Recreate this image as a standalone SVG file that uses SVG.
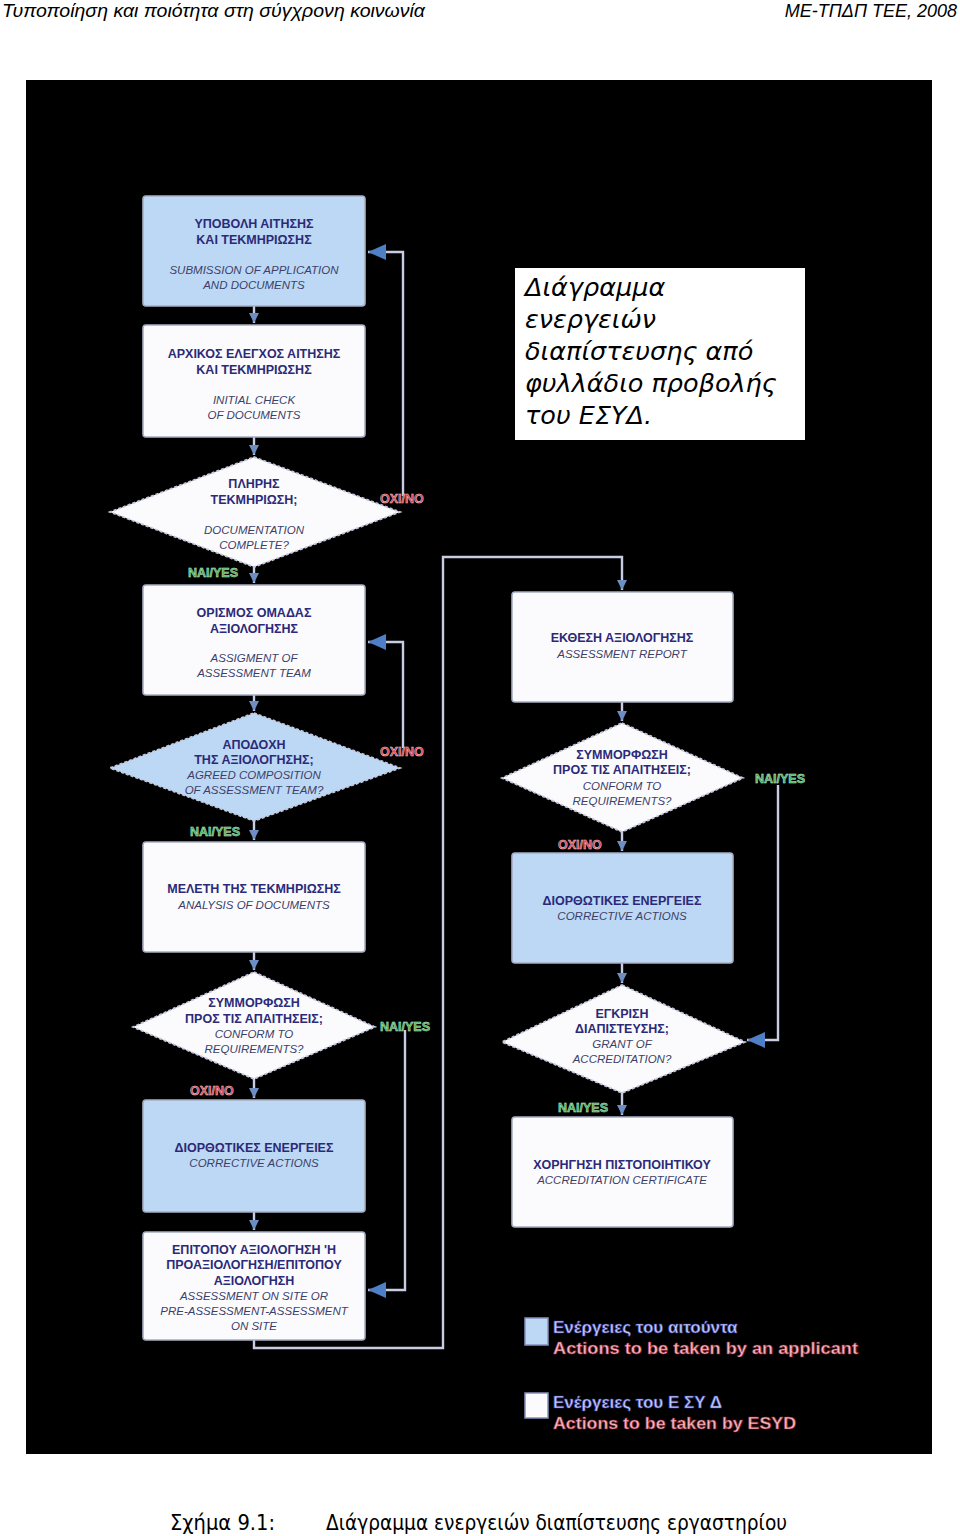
<svg xmlns="http://www.w3.org/2000/svg" width="960" height="1536" viewBox="0 0 960 1536">
<style>
.hdr{font-family:"Liberation Sans",Arial,sans-serif;font-style:italic;font-size:18px;fill:#000}
.cap{font-family:"DejaVu Sans","Liberation Sans",sans-serif;font-size:21px;fill:#000}
.ovl{font-family:"DejaVu Sans","Liberation Sans",sans-serif;font-style:italic;font-size:25.5px;fill:#000}
.box{stroke:#a8aec4;stroke-width:1.6}
.blue{fill:#bcd8f4}
.white{fill:#fbfbfd}
.dia{stroke:#c4c8dc;stroke-width:1.8;stroke-dasharray:3 2}
.gr{font-family:"Liberation Sans",Arial,sans-serif;font-weight:bold;font-size:12.5px;fill:#2b2a78;text-anchor:middle}
.en{font-family:"Liberation Sans",Arial,sans-serif;font-style:italic;font-size:11.5px;fill:#3c3f6a;text-anchor:middle}
.no{font-family:"Liberation Sans",Arial,sans-serif;font-weight:bold;font-size:12.5px;fill:#d83a48;stroke:#f6c8cc;stroke-width:0.5}
.yes{font-family:"Liberation Sans",Arial,sans-serif;font-weight:bold;font-size:12.5px;fill:#3ea858;stroke:#c8f0d0;stroke-width:0.5}
.con{fill:none;stroke:#c8cde4;stroke-width:2.4}
.lg1{font-family:"Liberation Sans",Arial,sans-serif;font-weight:bold;font-size:17px;fill:#c4cdf8;stroke:#3a3ca8;stroke-width:0.6}
.lg2{font-family:"Liberation Sans",Arial,sans-serif;font-weight:bold;font-size:17px;fill:#f2b8c2;stroke:#a02838;stroke-width:0.6}
</style>
<defs>
<marker id="sm" markerUnits="userSpaceOnUse" markerWidth="10" markerHeight="10" refX="10" refY="5" orient="auto"><path d="M0,0 L10,5 L0,10 z" fill="#6d8ec4"/></marker>
<marker id="bg" markerUnits="userSpaceOnUse" markerWidth="18" markerHeight="16" refX="18" refY="8" orient="auto"><path d="M0,0 L18,8 L0,16 z" fill="#4f7fc6"/></marker>
</defs>
<rect x="0" y="0" width="960" height="1536" fill="#fff"/>
<text class="hdr" x="2" y="17" textLength="423" lengthAdjust="spacingAndGlyphs">Τυποποίηση και ποιότητα στη σύγχρονη κοινωνία</text>
<text class="hdr" x="957" y="17" text-anchor="end">ΜΕ-ΤΠΔΠ ΤΕΕ, 2008</text>
<rect x="26" y="80" width="906" height="1374" fill="#000"/>
<g id="overlay">
<rect x="515" y="268" width="290" height="172" fill="#fff"/>
<text class="ovl" x="525" y="296">Διάγραμμα</text>
<text class="ovl" x="525" y="328">ενεργειών</text>
<text class="ovl" x="525" y="360">διαπίστευσης από</text>
<text class="ovl" x="525" y="392">φυλλάδιο προβολής</text>
<text class="ovl" x="525" y="424">του ΕΣΥΔ.</text>
</g>
<g id="connectors">
<path class="con" d="M254,306 V323" marker-end="url(#sm)"/>
<path class="con" d="M254,437 V455" marker-end="url(#sm)"/>
<path class="con" d="M403,496 V252 H368" marker-end="url(#bg)"/>
<path class="con" d="M254,567 V583" marker-end="url(#sm)"/>
<path class="con" d="M254,695 V711" marker-end="url(#sm)"/>
<path class="con" d="M403,748 V642 H368" marker-end="url(#bg)"/>
<path class="con" d="M254,820 V840" marker-end="url(#sm)"/>
<path class="con" d="M254,952 V970" marker-end="url(#sm)"/>
<path class="con" d="M405,1030 V1290 H368" marker-end="url(#bg)"/>
<path class="con" d="M254,1078 V1098" marker-end="url(#sm)"/>
<path class="con" d="M254,1212 V1230" marker-end="url(#sm)"/>
<path class="con" d="M254,1340 V1348 H443 V557 H622 V590" marker-end="url(#sm)"/>
<path class="con" d="M622,702 V721" marker-end="url(#sm)"/>
<path class="con" d="M778,785 V1040 H747" marker-end="url(#bg)"/>
<path class="con" d="M622,832 V851" marker-end="url(#sm)"/>
<path class="con" d="M622,963 V983" marker-end="url(#sm)"/>
<path class="con" d="M622,1093 V1115" marker-end="url(#sm)"/>
</g>
<g id="n1">
<rect class="box blue" x="143" y="196" width="222" height="110" rx="3"/>
<text class="gr" x="254" y="228">ΥΠΟΒΟΛΗ ΑΙΤΗΣΗΣ</text>
<text class="gr" x="254" y="244">ΚΑΙ ΤΕΚΜΗΡΙΩΣΗΣ</text>
<text class="en" x="254" y="274">SUBMISSION OF APPLICATION</text>
<text class="en" x="254" y="289">AND DOCUMENTS</text>
</g>
<g id="n2">
<rect class="box white" x="143" y="325" width="222" height="112" rx="3"/>
<text class="gr" x="254" y="358">ΑΡΧΙΚΟΣ ΕΛΕΓΧΟΣ ΑΙΤΗΣΗΣ</text>
<text class="gr" x="254" y="374">ΚΑΙ ΤΕΚΜΗΡΙΩΣΗΣ</text>
<text class="en" x="254" y="404">INITIAL CHECK</text>
<text class="en" x="254" y="419">OF DOCUMENTS</text>
</g>
<g id="d1">
<polygon class="dia white" points="254,457 400,512 254,567 110,512"/>
<text class="gr" x="254" y="488">ΠΛΗΡΗΣ</text>
<text class="gr" x="254" y="504">ΤΕΚΜΗΡΙΩΣΗ;</text>
<text class="en" x="254" y="534">DOCUMENTATION</text>
<text class="en" x="254" y="549">COMPLETE?</text>
<text class="no" x="380" y="503">ΟΧΙ/ΝΟ</text>
<text class="yes" x="188" y="577">ΝΑΙ/YES</text>
</g>
<g id="n3">
<rect class="box white" x="143" y="585" width="222" height="110" rx="3"/>
<text class="gr" x="254" y="617">ΟΡΙΣΜΟΣ ΟΜΑΔΑΣ</text>
<text class="gr" x="254" y="633">ΑΞΙΟΛΟΓΗΣΗΣ</text>
<text class="en" x="254" y="662">ASSIGMENT OF</text>
<text class="en" x="254" y="677">ASSESSMENT TEAM</text>
</g>
<g id="d2">
<polygon class="dia blue" points="254,713 400,768 254,821 110,768"/>
<text class="gr" x="254" y="749">ΑΠΟΔΟΧΗ</text>
<text class="gr" x="254" y="764">ΤΗΣ ΑΞΙΟΛΟΓΗΣΗΣ;</text>
<text class="en" x="254" y="779">AGREED COMPOSITION</text>
<text class="en" x="254" y="794">OF ASSESSMENT TEAM?</text>
<text class="no" x="380" y="756">ΟΧΙ/ΝΟ</text>
<text class="yes" x="190" y="836">ΝΑΙ/YES</text>
</g>
<g id="n4">
<rect class="box white" x="143" y="842" width="222" height="110" rx="3"/>
<text class="gr" x="254" y="893">ΜΕΛΕΤΗ ΤΗΣ ΤΕΚΜΗΡΙΩΣΗΣ</text>
<text class="en" x="254" y="909">ANALYSIS OF DOCUMENTS</text>
</g>
<g id="d3">
<polygon class="dia white" points="254,972 375,1027 254,1079 133,1027"/>
<text class="gr" x="254" y="1007">ΣΥΜΜΟΡΦΩΣΗ</text>
<text class="gr" x="254" y="1023">ΠΡΟΣ ΤΙΣ ΑΠΑΙΤΗΣΕΙΣ;</text>
<text class="en" x="254" y="1038">CONFORM TO</text>
<text class="en" x="254" y="1053">REQUIREMENTS?</text>
<text class="yes" x="380" y="1031">ΝΑΙ/YES</text>
<text class="no" x="190" y="1095">ΟΧΙ/ΝΟ</text>
</g>
<g id="n5">
<rect class="box blue" x="143" y="1100" width="222" height="112" rx="3"/>
<text class="gr" x="254" y="1152">ΔΙΟΡΘΩΤΙΚΕΣ ΕΝΕΡΓΕΙΕΣ</text>
<text class="en" x="254" y="1167">CORRECTIVE ACTIONS</text>
</g>
<g id="n6">
<rect class="box white" x="143" y="1232" width="222" height="108" rx="3"/>
<text class="gr" x="254" y="1254">ΕΠΙΤΟΠΟΥ ΑΞΙΟΛΟΓΗΣΗ 'Η</text>
<text class="gr" x="254" y="1269">ΠΡΟΑΞΙΟΛΟΓΗΣΗ/ΕΠΙΤΟΠΟΥ</text>
<text class="gr" x="254" y="1285">ΑΞΙΟΛΟΓΗΣΗ</text>
<text class="en" x="254" y="1300">ASSESSMENT ON SITE OR</text>
<text class="en" x="254" y="1315">PRE-ASSESSMENT-ASSESSMENT</text>
<text class="en" x="254" y="1330">ON SITE</text>
</g>
<g id="n7">
<rect class="box white" x="512" y="592" width="221" height="110" rx="3"/>
<text class="gr" x="622" y="642">ΕΚΘΕΣΗ ΑΞΙΟΛΟΓΗΣΗΣ</text>
<text class="en" x="622" y="658">ASSESSMENT REPORT</text>
</g>
<g id="d4">
<polygon class="dia white" points="622,723 743,778 622,832 502,778"/>
<text class="gr" x="622" y="759">ΣΥΜΜΟΡΦΩΣΗ</text>
<text class="gr" x="622" y="774">ΠΡΟΣ ΤΙΣ ΑΠΑΙΤΗΣΕΙΣ;</text>
<text class="en" x="622" y="790">CONFORM TO</text>
<text class="en" x="622" y="805">REQUIREMENTS?</text>
<text class="yes" x="755" y="783">ΝΑΙ/YES</text>
<text class="no" x="558" y="849">ΟΧΙ/ΝΟ</text>
</g>
<g id="n8">
<rect class="box blue" x="512" y="853" width="221" height="110" rx="3"/>
<text class="gr" x="622" y="905">ΔΙΟΡΘΩΤΙΚΕΣ ΕΝΕΡΓΕΙΕΣ</text>
<text class="en" x="622" y="920">CORRECTIVE ACTIONS</text>
</g>
<g id="d5">
<polygon class="dia white" points="622,985 745,1042 622,1093 502,1042"/>
<text class="gr" x="622" y="1018">ΕΓΚΡΙΣΗ</text>
<text class="gr" x="622" y="1033">ΔΙΑΠΙΣΤΕΥΣΗΣ;</text>
<text class="en" x="622" y="1048">GRANT OF</text>
<text class="en" x="622" y="1063">ACCREDITATION?</text>
<text class="yes" x="558" y="1112">ΝΑΙ/YES</text>
</g>
<g id="n9">
<rect class="box white" x="512" y="1117" width="221" height="110" rx="3"/>
<text class="gr" x="622" y="1169">ΧΟΡΗΓΗΣΗ ΠΙΣΤΟΠΟΙΗΤΙΚΟΥ</text>
<text class="en" x="622" y="1184">ACCREDITATION CERTIFICATE</text>
</g>
<g id="legend">
<rect x="525" y="1318" width="23" height="27" fill="#bcd8f4" stroke="#8890c0" stroke-width="1.5"/>
<text class="lg1" x="553" y="1333">Ενέργειες του αιτούντα</text>
<text class="lg2" x="553" y="1354" textLength="305" lengthAdjust="spacingAndGlyphs">Actions to be taken by an applicant</text>
<rect x="525" y="1393" width="23" height="25" fill="#fbfbfd" stroke="#8890c0" stroke-width="1.5"/>
<text class="lg1" x="553" y="1408">Ενέργειες του Ε ΣΥ Δ</text>
<text class="lg2" x="553" y="1429" textLength="243" lengthAdjust="spacingAndGlyphs">Actions to be taken by ESYD</text>
</g>
<text class="cap" x="170" y="1530" textLength="105" lengthAdjust="spacingAndGlyphs">Σχήμα 9.1:</text>
<text class="cap" x="326" y="1530" textLength="461" lengthAdjust="spacingAndGlyphs">Διάγραμμα ενεργειών διαπίστευσης εργαστηρίου</text>
</svg>
